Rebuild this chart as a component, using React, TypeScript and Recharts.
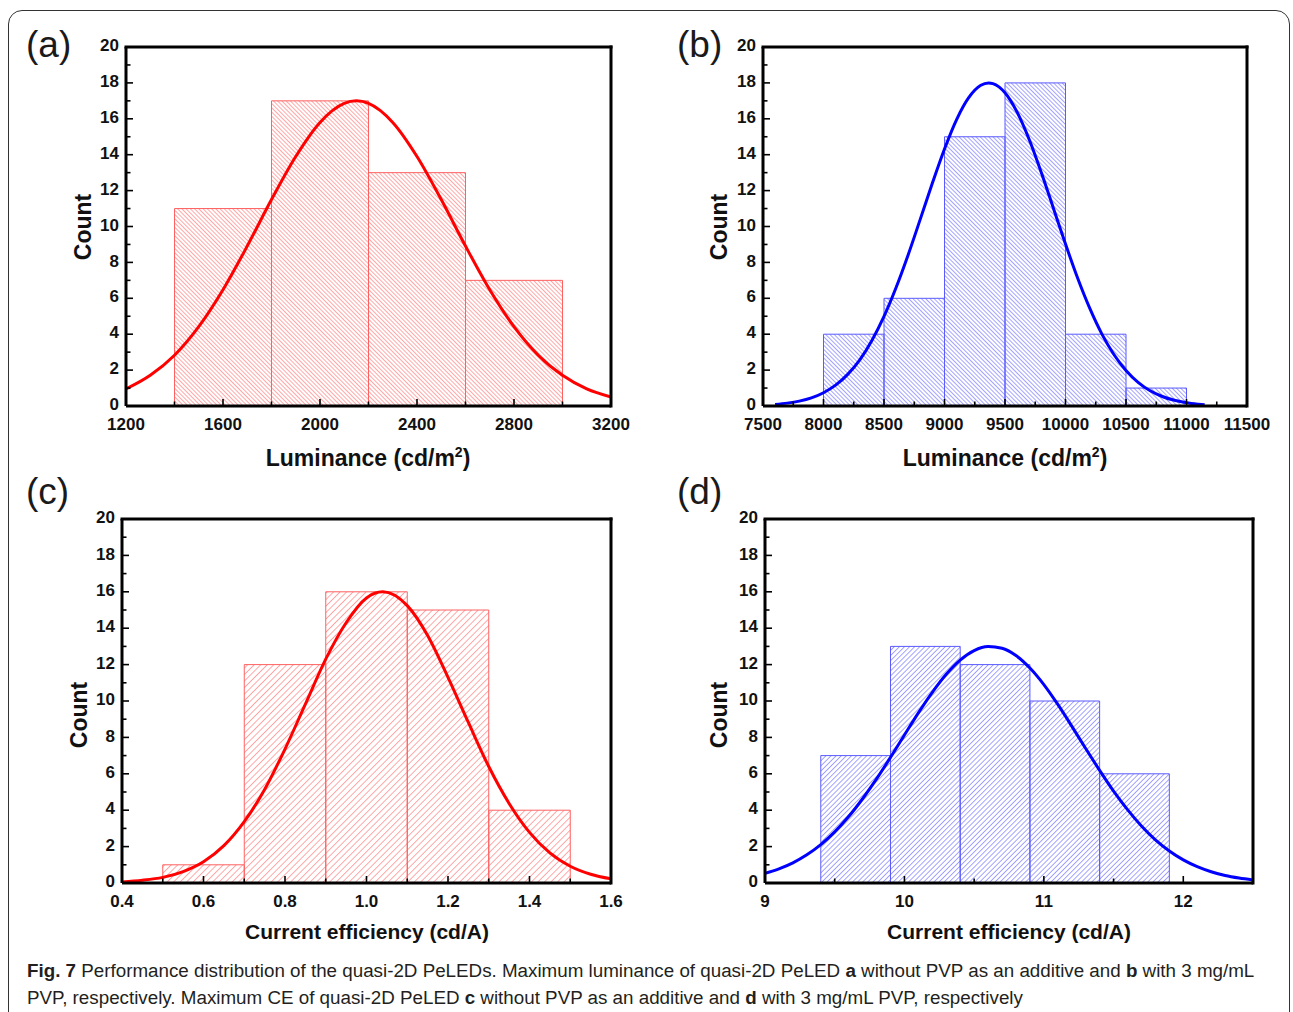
import React from 'react';
import { ComposedChart, Line, XAxis, YAxis, ReferenceArea, ReferenceLine } from 'recharts';

// ---------- data ----------
// (a) luminance without PVP
const binStartA = [1400, 1800, 2200, 2600];
const binEndA = [1800, 2200, 2600, 3000];
const countA = [11, 17, 13, 7];
const fitXA = [1200, 1300, 1400, 1500, 1600, 1700, 1800, 1900, 2000, 2100, 2150, 2200, 2300, 2400, 2500, 2600, 2700, 2800, 2900, 3000, 3100, 3200];
const fitYA = [0.95, 1.71, 2.83, 4.42, 6.48, 8.91, 11.5, 13.9, 15.8, 16.86, 17.0, 16.86, 15.8, 13.9, 11.5, 8.91, 6.48, 4.42, 2.83, 1.71, 0.95, 0.5];
const xMajorA = [1200, 1600, 2000, 2400, 2800, 3200];
const xMinorA = [1400, 1800, 2200, 2600, 3000];

// (b) luminance with PVP
const binStartB = [8000, 8500, 9000, 9500, 10000, 10500];
const binEndB = [8500, 9000, 9500, 10000, 10500, 11000];
const countB = [4, 6, 15, 18, 4, 1];
const fitXB = [7600, 7700, 7800, 7900, 8000, 8100, 8200, 8300, 8400, 8500, 8600, 8700, 8800, 8900, 9000, 9100, 9200, 9300, 9365, 9400, 9500, 9600, 9700, 9800, 9900, 10000, 10100, 10200, 10300, 10400, 10500, 10600, 10700, 10800, 10900, 11000, 11100, 11150];
const fitYB = [0.09, 0.16, 0.27, 0.45, 0.74, 1.16, 1.76, 2.57, 3.65, 4.99, 6.6, 8.43, 10.41, 12.42, 14.32, 15.96, 17.18, 17.87, 18.0, 17.96, 17.45, 16.37, 14.85, 13.01, 11.02, 9.02, 7.13, 5.45, 4.02, 2.87, 1.98, 1.32, 0.85, 0.53, 0.32, 0.18, 0.1, 0.07];
const xMajorB = [7500, 8000, 8500, 9000, 9500, 10000, 10500, 11000, 11500];
const xMinorB = [7750, 8250, 8750, 9250, 9750, 10250, 10750, 11250];

// (c) current efficiency without PVP
const binStartC = [0.5, 0.7, 0.9, 1.1, 1.3];
const binEndC = [0.7, 0.9, 1.1, 1.3, 1.5];
const countC = [1, 12, 16, 15, 4];
const fitXC = [0.4, 0.45, 0.5, 0.55, 0.6, 0.65, 0.7, 0.75, 0.8, 0.85, 0.9, 0.95, 1.0, 1.04, 1.1, 1.15, 1.2, 1.25, 1.3, 1.35, 1.4, 1.45, 1.5, 1.55, 1.6];
const fitYC = [0.06, 0.15, 0.31, 0.63, 1.17, 2.05, 3.37, 5.14, 7.36, 9.83, 12.3, 14.3, 15.66, 16.0, 15.24, 13.6, 11.3, 8.82, 6.4, 4.37, 2.78, 1.65, 0.92, 0.48, 0.23];
const xMajorC = [0.4, 0.6, 0.8, 1.0, 1.2, 1.4, 1.6];
const xMinorC = [0.5, 0.7, 0.9, 1.1, 1.3, 1.5];

// (d) current efficiency with PVP
const binStartD = [9.4, 9.9, 10.4, 10.9, 11.4];
const binEndD = [9.9, 10.4, 10.9, 11.4, 11.9];
const countD = [7, 13, 12, 10, 6];
const fitXD = [9.0, 9.1, 9.2, 9.3, 9.4, 9.5, 9.6, 9.7, 9.8, 9.9, 10.0, 10.1, 10.2, 10.3, 10.4, 10.5, 10.6, 10.7, 10.8, 10.9, 11.0, 11.1, 11.2, 11.3, 11.4, 11.5, 11.6, 11.7, 11.8, 11.9, 12.0, 12.1, 12.2, 12.3, 12.4, 12.5];
const fitYD = [0.53, 0.78, 1.11, 1.55, 2.11, 2.81, 3.65, 4.63, 5.72, 6.9, 8.13, 9.35, 10.48, 11.47, 12.25, 12.77, 12.99, 12.9, 12.5, 11.81, 10.9, 9.81, 8.62, 7.39, 6.19, 5.05, 4.03, 3.13, 2.37, 1.76, 1.27, 0.9, 0.62, 0.41, 0.27, 0.17];
const xMajorD = [9, 10, 11, 12];
const xMinorD = [9.5, 10.5, 11.5];

const yMajor = [0, 2, 4, 6, 8, 10, 12, 14, 16, 18, 20];
const yMinor = [1, 3, 5, 7, 9, 11, 13, 15, 17, 19];

const FONT = '"Liberation Sans", Arial, Helvetica, sans-serif';

const isIn = (arr: number[], v: number) => arr.some((m) => Math.abs(m - v) < 1e-9);

function makeXTick(majors: number[], fmt: (v: number) => string) {
  return (props: any) => {
    const { x, y, payload } = props;
    const v = payload.value;
    const major = isIn(majors, v);
    return (
      <g>
        <line x1={x} y1={y} x2={x} y2={y - (major ? 7 : 4.5)} stroke="#000" strokeWidth={1.6} />
        {major && (
          <text x={x} y={y + 11} dy="0.74em" textAnchor="middle" fontFamily={FONT} fontWeight="bold" fontSize={17} fill="#111">
            {fmt(v)}
          </text>
        )}
      </g>
    );
  };
}

function YTick(props: any) {
  const { x, y, payload } = props;
  const v = payload.value;
  const major = isIn(yMajor, v);
  return (
    <g>
      <line x1={x} y1={y} x2={x + (major ? 7 : 4.5)} y2={y} stroke="#000" strokeWidth={1.6} />
      {major && (
        <text x={x - 7} y={y - 2} dy="0.36em" textAnchor="end" fontFamily={FONT} fontWeight="bold" fontSize={17} fill="#111">
          {v}
        </text>
      )}
    </g>
  );
}

type PanelProps = {
  left: number; top: number; right: number; bottom: number;
  starts: number[]; ends: number[]; counts: number[];
  fx: number[]; fy: number[];
  domain: [number, number];
  majors: number[]; minors: number[];
  fmt: (v: number) => string;
  pid: string; angle: number; sp: number;
  hatch: string; edge: string; line: string;
};

function Panel(p: PanelProps) {
  const padL = 80, padT = 20, padR = 30, padB = 50;
  const yW = 60, xH = 40;
  const width = p.right - p.left + padL + padR;
  const height = p.bottom - p.top + padT + padB;
  const curve = p.fx.map((x, i) => ({ x, y: p.fy[i] }));
  const XT = makeXTick(p.majors, p.fmt);
  const xticks = [...p.majors, ...p.minors].sort((a, b) => a - b);
  const yticks = [...yMajor, ...yMinor].sort((a, b) => a - b);
  return (
    <div style={{ position: 'absolute', left: p.left - padL, top: p.top - padT }}>
      <ComposedChart width={width} height={height} data={curve} margin={{ top: padT, right: padR, left: padL - yW, bottom: padB - xH }}>
        <defs>
          <pattern id={p.pid} patternUnits="userSpaceOnUse" width={p.sp} height={p.sp} patternTransform={`rotate(${p.angle})`}>
            <line x1={0} y1={-1} x2={0} y2={p.sp + 1} stroke={p.hatch} strokeWidth={1} />
          </pattern>
        </defs>
        <XAxis
          type="number"
          dataKey="x"
          domain={p.domain}
          allowDataOverflow
          ticks={xticks}
          interval={0}
          tickSize={0}
          tickMargin={0}
          tickLine={false}
          tick={XT}
          height={xH}
          axisLine={{ stroke: '#000', strokeWidth: 3 }}
        />
        <YAxis
          type="number"
          domain={[0, 20]}
          allowDataOverflow
          ticks={yticks}
          interval={0}
          tickSize={0}
          tickMargin={0}
          tickLine={false}
          tick={YTick}
          width={yW}
          axisLine={{ stroke: '#000', strokeWidth: 3 }}
        />
        {p.starts.map((s, i) => (
          <ReferenceArea
            key={i}
            x1={s}
            x2={p.ends[i]}
            y1={0}
            y2={p.counts[i]}
            fill={`url(#${p.pid})`}
            fillOpacity={1}
            stroke={p.edge}
            strokeWidth={1}
            strokeOpacity={1}
            ifOverflow="visible"
          />
        ))}
        <Line dataKey="y" type="monotone" stroke={p.line} strokeWidth={3} dot={false} isAnimationActive={false} />
        <ReferenceLine y={20} stroke="#000" strokeWidth={3} strokeLinecap="square" ifOverflow="visible" />
        <ReferenceLine x={p.domain[1]} stroke="#000" strokeWidth={3} strokeLinecap="square" ifOverflow="visible" />
      </ComposedChart>
    </div>
  );
}

const titleStyle: React.CSSProperties = {
  position: 'absolute',
  fontFamily: FONT,
  fontWeight: 'bold',
  fontSize: 21,
  color: '#111',
  whiteSpace: 'nowrap',
  transform: 'translate(-50%, 0)',
  lineHeight: 1,
};

function XTitle({ cx, top, size, children }: { cx: number; top: number; size: number; children: React.ReactNode }) {
  return <div style={{ ...titleStyle, left: cx, top, fontSize: size }}>{children}</div>;
}

function YTitle({ cx, cy }: { cx: number; cy: number }) {
  return (
    <div style={{ ...titleStyle, left: cx, top: cy, fontSize: 23, transform: 'translate(-50%, -50%) rotate(-90deg)' }}>Count</div>
  );
}

function PanelLabel({ x, y, text }: { x: number; y: number; text: string }) {
  return (
    <div style={{ position: 'absolute', left: x, top: y, fontFamily: FONT, fontSize: 37, color: '#1a1a1a', lineHeight: 1, whiteSpace: 'nowrap' }}>
      {text}
    </div>
  );
}

const sup = <span style={{ fontSize: 14, verticalAlign: 'super', lineHeight: 0 }}>2</span>;

const RED_HATCH = '#ff5252';
const RED_EDGE = '#ff6060';
const BLUE_HATCH = '#4a4aff';
const BLUE_EDGE = '#5a5aff';

export default function App() {
  return (
    <div style={{ position: 'absolute', left: 0, top: 0, width: 1293, height: 1012, overflow: 'hidden', background: '#fff' }}>
      <div
        style={{
          position: 'absolute',
          left: 8,
          top: 10,
          width: 1282,
          height: 1100,
          border: '1.5px solid #333',
          borderRadius: 14,
          boxSizing: 'border-box',
        }}
      />
      <Panel
        left={126} top={47} right={611} bottom={406}
        starts={binStartA} ends={binEndA} counts={countA}
        fx={fitXA} fy={fitYA} domain={[1200, 3200]}
        majors={xMajorA} minors={xMinorA} fmt={(v) => String(v)}
        pid="hatchA" angle={-45} sp={3.0}
        hatch={RED_HATCH} edge={RED_EDGE} line="#ff0000"
      />
      <Panel
        left={763} top={47} right={1247} bottom={406}
        starts={binStartB} ends={binEndB} counts={countB}
        fx={fitXB} fy={fitYB} domain={[7500, 11500]}
        majors={xMajorB} minors={xMinorB} fmt={(v) => String(v)}
        pid="hatchB" angle={-45} sp={3.0}
        hatch={BLUE_HATCH} edge={BLUE_EDGE} line="#0000ff"
      />
      <Panel
        left={122} top={519} right={611} bottom={883}
        starts={binStartC} ends={binEndC} counts={countC}
        fx={fitXC} fy={fitYC} domain={[0.4, 1.6]}
        majors={xMajorC} minors={xMinorC} fmt={(v) => v.toFixed(1)}
        pid="hatchC" angle={45} sp={4.6}
        hatch={RED_HATCH} edge={RED_EDGE} line="#ff0000"
      />
      <Panel
        left={765} top={519} right={1253} bottom={883}
        starts={binStartD} ends={binEndD} counts={countD}
        fx={fitXD} fy={fitYD} domain={[9, 12.5]}
        majors={xMajorD} minors={xMinorD} fmt={(v) => String(v)}
        pid="hatchD" angle={45} sp={3.6}
        hatch={BLUE_HATCH} edge={BLUE_EDGE} line="#0000ff"
      />

      <PanelLabel x={26} y={26} text="(a)" />
      <PanelLabel x={677} y={26} text="(b)" />
      <PanelLabel x={26} y={473} text="(c)" />
      <PanelLabel x={677} y={473} text="(d)" />

      <XTitle cx={368} top={447} size={23}>Luminance (cd/m{sup})</XTitle>
      <XTitle cx={1005} top={447} size={23}>Luminance (cd/m{sup})</XTitle>
      <XTitle cx={367} top={921} size={21}>Current efficiency (cd/A)</XTitle>
      <XTitle cx={1009} top={921} size={21}>Current efficiency (cd/A)</XTitle>

      <YTitle cx={83} cy={227} />
      <YTitle cx={719} cy={227} />
      <YTitle cx={79} cy={715} />
      <YTitle cx={719} cy={715} />

      <div style={{ position: 'absolute', left: 27, top: 957, fontFamily: FONT, fontSize: 18.8, color: '#231f20', whiteSpace: 'nowrap', lineHeight: '27px' }}>
        <div>
          <b>Fig. 7</b> Performance distribution of the quasi-2D PeLEDs. Maximum luminance of quasi-2D PeLED <b>a</b> without PVP as an additive and <b>b</b> with 3 mg/mL
        </div>
        <div>
          PVP, respectively. Maximum CE of quasi-2D PeLED <b>c</b> without PVP as an additive and <b>d</b> with 3 mg/mL PVP, respectively
        </div>
      </div>
    </div>
  );
}
